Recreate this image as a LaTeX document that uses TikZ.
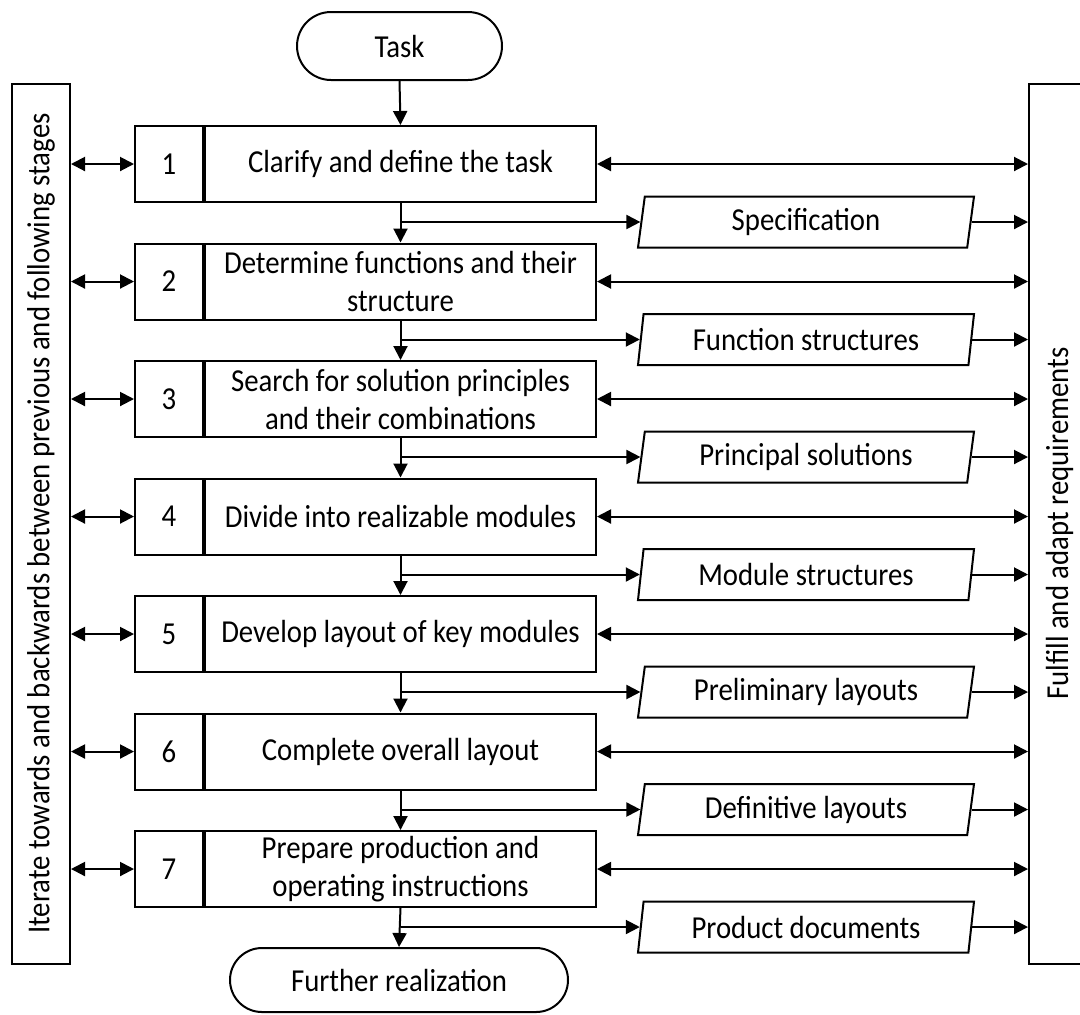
\documentclass[tikz,border=0pt]{standalone}
\usepackage{fontspec}
\setmainfont[FakeStretch=0.9]{Carlito}
\usepackage{tikz}
\usetikzlibrary{arrows.meta, positioning, shapes.geometric, shapes.misc}

\begin{document}
\begin{tikzpicture}[
		x=0.5pt, y=-0.5pt,
		line width=1pt,
		>={Triangle[length=7pt, width=7pt]},
		every node/.style={font=\fontsize{16pt}{19pt}\selectfont},
		terminal/.style={draw, rounded rectangle, inner sep=0pt},
		numbox/.style={draw, minimum width=34pt, minimum height=38pt, inner sep=0pt},
		stepbox/.style={draw, minimum width=195.5pt, minimum height=38pt, inner sep=0pt, align=center},
		docbox/.style={draw, trapezium, trapezium left angle=76, trapezium right angle=104,
			trapezium stretches body, minimum width=168pt, minimum height=25.5pt, inner sep=0pt},
		sidebar/.style={draw, minimum width=29pt, minimum height=440pt, inner sep=0pt}
	]
	\useasboundingbox (0,0) rectangle (1080,1014);

	% start and end
	\node[terminal, minimum width=102.5pt, minimum height=34pt] (task) at (399.5,46) {Task};
	\node[terminal, minimum width=169pt, minimum height=32pt] (fin) at (399,980) {Further realization};

	% side bars
	\node[sidebar] (iter) at (41,523.5) {\rotatebox{90}{Iterate towards and backwards between previous and following stages}};
	\node[sidebar, minimum width=30.5pt] (req) at (1059.5,523.5) {\rotatebox{90}{Fulfill and adapt requirements}};

	% stages
	\foreach \i/\y/\txt in {
			1/164/{Clarify and define the task},
			2/281.5/{Determine functions and their\\structure},
			3/399/{Search for solution principles\\and their combinations},
			4/516.5/{Divide into realizable modules},
			5/634/{Develop layout of key modules},
			6/751.5/{Complete overall layout},
			7/869/{Prepare production and\\operating instructions}} {
		\node[numbox] (n\i) at (169,\y) {\i};
		\node[stepbox, anchor=west] (s\i) at (n\i.east) {\txt};
		\draw[<->] (iter.east |- n\i) -- (n\i.west);
		\draw[<->] (s\i.east) -- (s\i.east -| req.west);
	}

	% results
	\foreach \i/\y/\txt in {
			1/222/Specification,
			2/339.5/Function structures,
			3/457/Principal solutions,
			4/574.5/Module structures,
			5/692/Preliminary layouts,
			6/809.5/Definitive layouts,
			7/927/Product documents} {
		\node[docbox] (o\i) at (806,\y) {\txt};
		\draw[->] (s\i.south |- o\i.west) -- (o\i.west);
		\draw[->] (o\i.east) -- (o\i.east -| req.west);
	}

	% main flow
	\draw[->] (task.south) -- (s1.north);
	\foreach \i/\j in {1/2, 2/3, 3/4, 4/5, 5/6, 6/7}
		\draw[->] (s\i.south) -- (s\j.north);
	\draw[->] (s7.south) -- (fin.north);
\end{tikzpicture}
\end{document}
